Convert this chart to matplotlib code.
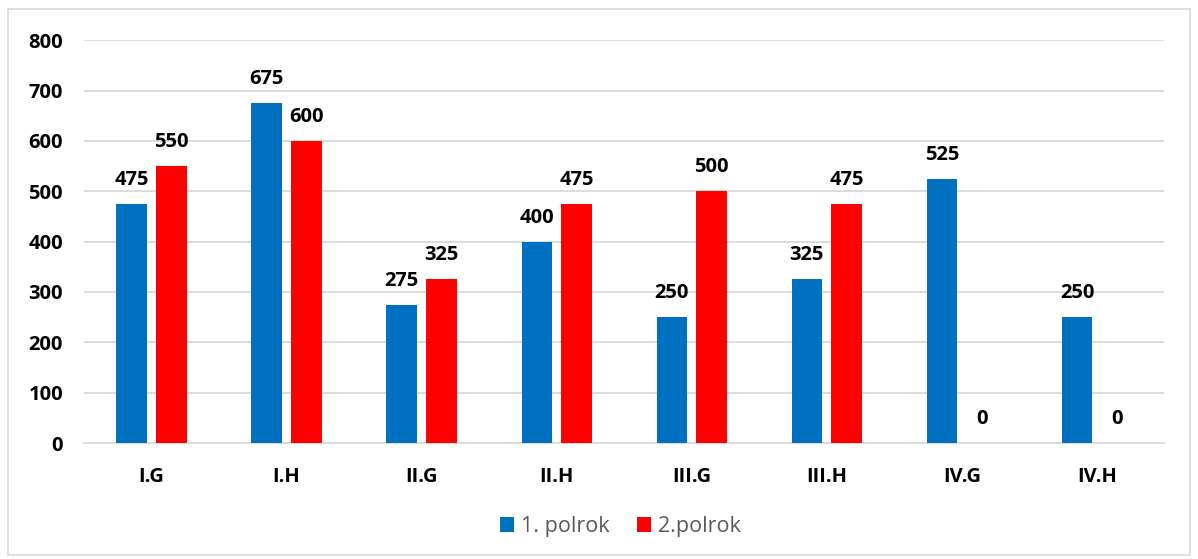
import numpy as np
import matplotlib.pyplot as plt
from matplotlib.patches import Rectangle

# data
classes = ['I.G', 'I.H', 'II.G', 'II.H', 'III.G', 'III.H', 'IV.G', 'IV.H']
first_half = [475, 675, 275, 400, 250, 325, 525, 250]
second_half = [550, 600, 325, 475, 500, 475, 0, 0]
series_names = ['1. polrok', '2.polrok']

plt.rcParams['font.family'] = ['Open Sans', 'DejaVu Sans']

fig = plt.figure(figsize=(11.98, 5.59), dpi=100)
ax = fig.add_axes([0.070, 0.2075, 0.902, 0.7205])

# grey border round the whole chart
fig.patches.append(Rectangle((8 / 1198, 4 / 559), 1182 / 1198, 546 / 559,
                             transform=fig.transFigure, fill=False,
                             edgecolor='#d9d9d9', linewidth=1.2))

x = np.arange(len(classes))
w = 0.225
gap = 0.07
b1 = ax.bar(x - (w + gap) / 2, first_half, w, color='#0070c0', label=series_names[0], zorder=3)
b2 = ax.bar(x + (w + gap) / 2, second_half, w, color='#ff0000', label=series_names[1], zorder=3)

for bars in (b1, b2):
    ax.bar_label(bars, padding=10, fontsize=14.5, fontweight='bold', color='black')

ax.set_xlim(-0.5, len(classes) - 0.5)
ax.set_ylim(0, 800)
ax.set_yticks(range(0, 801, 100))
ax.set_xticks(x)
ax.set_xticklabels(classes)
ax.grid(axis='y', color='#d9d9d9', linewidth=1.3, zorder=0)
ax.tick_params(axis='both', length=0, labelsize=14.5)
ax.tick_params(axis='x', pad=17)
ax.tick_params(axis='y', pad=15)
for lbl in ax.get_xticklabels() + ax.get_yticklabels():
    lbl.set_fontweight('bold')
for s in ['top', 'right', 'left']:
    ax.spines[s].set_visible(False)
ax.spines['bottom'].set_color('#d9d9d9')
ax.spines['bottom'].set_linewidth(1.3)

fig.legend(loc='center', bbox_to_anchor=(0.518, 0.058), ncol=2, frameon=False,
           fontsize=15.5, labelcolor='#595959', handlelength=0.65, handleheight=0.65,
           handletextpad=0.3, columnspacing=1.3)

fig.savefig('out.png', dpi=100)
